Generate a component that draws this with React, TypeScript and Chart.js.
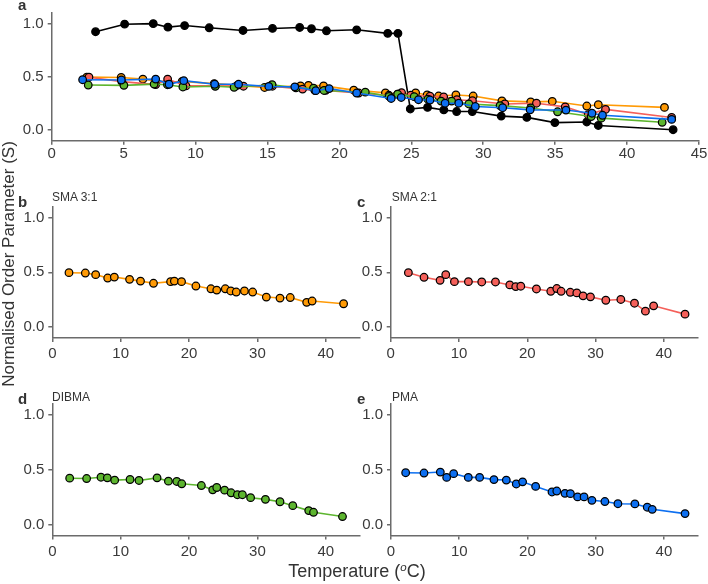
import { useEffect, useRef } from "react";
import { Chart, registerables } from "chart.js";

Chart.register(...registerables);

// temperatures (°C) and normalised order parameter S
const sma31Temp = [2.44, 4.83, 6.34, 8.1, 9.07, 11.3, 12.9, 14.8, 17.3, 17.85, 18.9, 21.0, 23.2, 24.05, 25.3, 26.1, 26.9, 28.1, 29.3, 31.3, 33.3, 34.8, 37.2, 38.0, 42.6];
const sma31S = [0.497, 0.494, 0.479, 0.448, 0.457, 0.436, 0.42, 0.4, 0.415, 0.42, 0.415, 0.375, 0.35, 0.338, 0.35, 0.33, 0.32, 0.33, 0.32, 0.274, 0.265, 0.27, 0.226, 0.238, 0.213];

const sma21Temp = [2.59, 4.88, 7.23, 8.06, 9.33, 11.38, 13.33, 15.34, 17.44, 18.31, 19.05, 21.34, 23.44, 24.32, 24.96, 26.3, 27.25, 28.17, 29.25, 31.5, 33.7, 35.7, 37.3, 38.5, 43.1];
const sma21S = [0.497, 0.455, 0.427, 0.479, 0.415, 0.415, 0.412, 0.412, 0.385, 0.37, 0.373, 0.348, 0.327, 0.352, 0.327, 0.318, 0.312, 0.285, 0.276, 0.245, 0.252, 0.218, 0.145, 0.194, 0.118];

const dibmaTemp = [2.54, 5.02, 7.12, 8.05, 9.12, 11.37, 12.68, 15.32, 16.98, 18.2, 18.93, 21.8, 23.46, 24.05, 25.2, 26.15, 27.07, 27.8, 29.0, 31.17, 33.3, 35.17, 37.5, 38.2, 42.44];
const dibmaS = [0.423, 0.42, 0.432, 0.426, 0.405, 0.411, 0.402, 0.426, 0.396, 0.393, 0.372, 0.356, 0.317, 0.338, 0.314, 0.29, 0.272, 0.272, 0.245, 0.23, 0.208, 0.172, 0.127, 0.112, 0.073];

const pmaTemp = [2.15, 4.84, 7.23, 8.16, 9.18, 11.33, 12.99, 15.09, 16.9, 18.36, 19.29, 21.2, 23.6, 24.3, 25.5, 26.3, 27.35, 28.3, 29.45, 31.35, 33.26, 35.75, 37.56, 38.29, 43.1];
const pmaS = [0.473, 0.47, 0.479, 0.43, 0.464, 0.43, 0.43, 0.41, 0.406, 0.37, 0.39, 0.348, 0.297, 0.306, 0.285, 0.282, 0.252, 0.252, 0.221, 0.21, 0.19, 0.188, 0.158, 0.139, 0.1];

const blackTemp = [3.05, 5.07, 7.06, 8.08, 9.24, 10.95, 13.3, 15.35, 17.24, 18.06, 19.1, 21.2, 23.36, 24.07, 24.93, 26.13, 27.26, 28.15, 29.24, 31.25, 33.03, 34.98, 37.2, 38.0, 43.2];
const blackS = [0.924, 0.995, 1.0, 0.967, 0.982, 0.961, 0.936, 0.955, 0.964, 0.952, 0.933, 0.942, 0.909, 0.909, 0.198, 0.213, 0.189, 0.174, 0.174, 0.131, 0.119, 0.07, 0.076, 0.043, 0.003];

const yTicks = [0, 0.5, 1.0];
const xTicksTop = [0, 5, 10, 15, 20, 25, 30, 35, 40, 45];
const xTicksSmall = [0, 10, 20, 30, 40];

const ORANGE = "#ff9a05";
const RED = "#f5605a";
const GREEN = "#5db52f";
const BLUE = "#0d6ff0";
const AXIS = "#6b6b6b";
const TICK_TXT = "#3a3a3a";
const FONT = "'Liberation Sans', Arial, sans-serif";

function series(temp: number[], s: number[], color: string) {
  return {
    data: temp.map((t, i) => ({ x: t, y: s[i] })),
    borderColor: color,
    backgroundColor: color,
    pointBackgroundColor: color,
    pointBorderColor: "#000000",
    pointBorderWidth: 1.25,
    pointRadius: 3.8,
    borderWidth: 1.6,
    tension: 0,
  };
}

type PanelProps = {
  left: number;
  top: number;
  width: number;
  height: number;
  datasets: any[];
  xTicks: number[];
  axisW: number;
  xAxisH: number;
  padTop: number;
  padRight: number;
  xPad: number;
};

function Panel(p: PanelProps) {
  const canvasRef = useRef<HTMLCanvasElement | null>(null);
  const chartRef = useRef<Chart | null>(null);

  useEffect(() => {
    const ctx = canvasRef.current?.getContext("2d");
    if (!ctx) return;
    if (chartRef.current) chartRef.current.destroy();

    const axisCommon = {
      grid: {
        display: true,
        drawOnChartArea: false,
        drawTicks: true,
        tickLength: 4,
        color: AXIS,
        lineWidth: 1.5,
      },
      border: { display: true, color: AXIS, width: 1.5 },
    };

    chartRef.current = new Chart(ctx, {
      type: "line",
      data: { datasets: p.datasets },
      options: {
        animation: false,
        responsive: true,
        maintainAspectRatio: false,
        events: [],
        layout: { padding: { top: p.padTop, right: p.padRight, left: 0, bottom: 0 } },
        plugins: { legend: { display: false }, tooltip: { enabled: false } },
        scales: {
          x: {
            type: "linear",
            min: 0,
            max: 45,
            ...axisCommon,
            afterBuildTicks: (axis: any) => {
              axis.ticks = p.xTicks.map((v) => ({ value: v }));
            },
            afterFit: (scale: any) => {
              scale.height = p.xAxisH;
            },
            ticks: {
              color: TICK_TXT,
              font: { family: FONT, size: 15 },
              padding: p.xPad,
              maxRotation: 0,
              autoSkip: false,
            },
          },
          y: {
            type: "linear",
            min: -0.1,
            max: 1.1,
            ...axisCommon,
            afterBuildTicks: (axis: any) => {
              axis.ticks = yTicks.map((v) => ({ value: v }));
            },
            afterFit: (scale: any) => {
              scale.width = p.axisW;
            },
            ticks: {
              color: TICK_TXT,
              font: { family: FONT, size: 15 },
              padding: 4,
              callback: (v: any) => Number(v).toFixed(1),
            },
          },
        },
      } as any,
    });

    return () => {
      if (chartRef.current) {
        chartRef.current.destroy();
        chartRef.current = null;
      }
    };
  }, []);

  return (
    <div
      style={{
        position: "absolute",
        left: p.left,
        top: p.top,
        width: p.width,
        height: p.height,
      }}
    >
      <canvas ref={canvasRef} />
    </div>
  );
}

function Label(props: { x: number; y: number; text: any; size: number; bold?: boolean }) {
  return (
    <div
      style={{
        position: "absolute",
        left: props.x,
        top: props.y,
        fontFamily: FONT,
        fontSize: props.size,
        fontWeight: props.bold ? "bold" : "normal",
        lineHeight: 1,
        color: "#333333",
        whiteSpace: "nowrap",
      }}
    >
      {props.text}
    </div>
  );
}

export default function App() {
  const all = [
    series(pmaTemp, pmaS, BLUE),
    series(dibmaTemp, dibmaS, GREEN),
    series(sma21Temp, sma21S, RED),
    series(sma31Temp, sma31S, ORANGE),
    series(blackTemp, blackS, "#000000"),
  ];

  return (
    <div
      style={{
        position: "absolute",
        left: 0,
        top: 0,
        width: 708,
        height: 584,
        background: "#ffffff",
        overflow: "hidden",
      }}
    >
      <Panel left={0} top={0} width={708} height={170} datasets={all} xTicks={xTicksTop}
        axisW={51.7} xAxisH={29.3} padTop={10} padRight={9} xPad={0} />
      <Panel left={0} top={190} width={368} height={175} datasets={[series(sma31Temp, sma31S, ORANGE)]}
        xTicks={xTicksSmall} axisW={52.3} xAxisH={27} padTop={16.7} padRight={8} xPad={3} />
      <Panel left={340} top={190} width={368} height={175} datasets={[series(sma21Temp, sma21S, RED)]}
        xTicks={xTicksSmall} axisW={50.7} xAxisH={27} padTop={16.7} padRight={10} xPad={3} />
      <Panel left={0} top={390} width={368} height={172} datasets={[series(dibmaTemp, dibmaS, GREEN)]}
        xTicks={xTicksSmall} axisW={52.3} xAxisH={26.5} padTop={14} padRight={8} xPad={3} />
      <Panel left={340} top={390} width={368} height={172} datasets={[series(pmaTemp, pmaS, BLUE)]}
        xTicks={xTicksSmall} axisW={51} xAxisH={26.5} padTop={14} padRight={10} xPad={3} />

      <Label x={18} y={-2.7} text="a" size={15} bold />
      <Label x={18} y={194} text="b" size={15} bold />
      <Label x={357} y={194} text="c" size={15} bold />
      <Label x={18} y={390.6} text="d" size={15} bold />
      <Label x={357} y={390.6} text="e" size={15} bold />

      <Label x={52} y={191.4} text="SMA 3:1" size={12} />
      <Label x={391.7} y={191.4} text="SMA 2:1" size={12} />
      <Label x={52} y={390.7} text="DIBMA" size={12} />
      <Label x={392} y={390.7} text="PMA" size={12} />

      <div
        style={{
          position: "absolute",
          left: 207,
          top: 561.5,
          width: 300,
          textAlign: "center",
          fontFamily: FONT,
          fontSize: 18,
          lineHeight: 1,
          color: "#333333",
        }}
      >
        Temperature (<sup style={{ fontSize: 11.5, fontStyle: "italic", verticalAlign: "6px" }}>o</sup>C)
      </div>
      <div
        style={{
          position: "absolute",
          left: 9 - 200,
          top: 264 - 10,
          width: 400,
          height: 20,
          lineHeight: "20px",
          textAlign: "center",
          fontFamily: FONT,
          fontSize: 17,
          color: "#333333",
          transform: "rotate(-90deg)",
          whiteSpace: "nowrap",
        }}
      >
        Normalised Order Parameter (S)
      </div>
    </div>
  );
}
